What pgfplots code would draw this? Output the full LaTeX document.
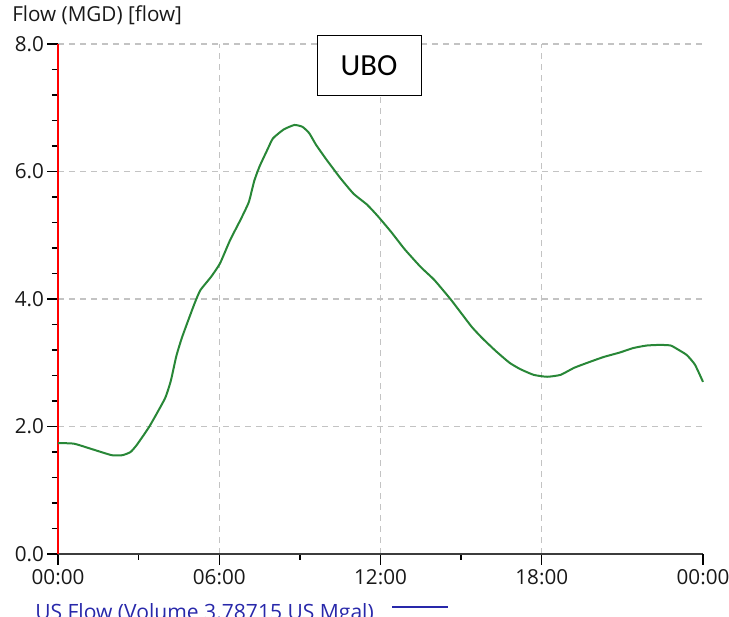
\documentclass[border=0pt]{standalone}
\usepackage{fontspec}
\setmainfont{Open Sans}
\newfontfamily\calibri{Carlito}
\usepackage{pgfplots}
\pgfplotsset{compat=1.18}
\definecolor{curvegreen}{RGB}{40,135,55}
\definecolor{gridgray}{RGB}{195,195,195}
\definecolor{legblue}{RGB}{40,40,170}
\definecolor{axisdark}{RGB}{60,60,60}
\begin{document}
\begin{tikzpicture}
\clip (-43.5pt,-47.25pt) rectangle (503.25pt,415.5pt);
\begin{axis}[
  at={(0,0)}, anchor=south west,
  scale only axis,
  width=483.75pt, height=382.5pt,
  xmin=0, xmax=24, ymin=0, ymax=8,
  axis x line*=bottom, axis y line*=left,
  x axis line style={-, draw=axisdark, line width=1.6pt},
  y axis line style={-, draw=red, line width=1.4pt},
  xtick={0,6,12,18},
  xticklabels={00:00,06:00,12:00,18:00},
  extra x ticks={24},
  extra x tick labels={00:00},
  extra x tick style={grid=none},
  minor x tick num=1,
  ytick={0,2,4,6,8},
  minor y tick num=4,
  tick align=outside,
  major tick length=8pt,
  minor tick length=4.5pt,
  every tick/.style={black, line width=1.1pt},
  xmajorgrids, ymajorgrids,
  major grid style={gridgray, line width=1.1pt, dash pattern=on 4.5pt off 3.75pt},
  yticklabel style={xshift=1pt, /pgf/number format/.cd, fixed, fixed zerofill, precision=1, assume math mode=true},
  ticklabel style={font=\fontsize{15.5}{18}\selectfont, text=black!90},
  /pgf/number format/assume math mode=true,
  clip=false,
]
\addplot[curvegreen, line width=1.5pt, smooth, tension=0.3] coordinates {
(0,1.74) (0.6,1.73) (1.3,1.64) (2.0,1.55) (2.4,1.55) (2.7,1.60) (2.93,1.71)
(3.4,2.0) (3.98,2.44) (4.2,2.72) (4.4,3.10) (4.6,3.38) (4.85,3.67)
(5.1,3.95) (5.3,4.14) (5.7,4.35) (6.03,4.56) (6.4,4.92) (6.8,5.25)
(7.1,5.52) (7.3,5.85) (7.5,6.08) (7.8,6.35) (8.0,6.52) (8.4,6.66)
(8.8,6.73) (9.1,6.70) (9.35,6.60) (9.6,6.42) (10.0,6.18) (10.5,5.90)
(11.0,5.65) (11.5,5.48) (11.9,5.30) (12.4,5.05) (12.9,4.78) (13.5,4.50)
(14.0,4.30) (14.6,4.00) (15.0,3.78) (15.4,3.56) (15.8,3.38) (16.3,3.18)
(16.8,3.00) (17.2,2.90) (17.7,2.81) (18.2,2.78) (18.7,2.81) (19.2,2.92)
(19.7,3.00) (20.3,3.09) (20.9,3.16) (21.4,3.23) (21.9,3.27) (22.4,3.28)
(22.8,3.27) (23.1,3.20) (23.4,3.12) (23.7,2.97) (24.0,2.70)
};
\end{axis}
% y-axis title
\node[anchor=base west, font=\fontsize{15.5}{18}\selectfont, text=black!90, inner sep=0pt] at (-34.5pt,399pt) {Flow (MGD) [flow]};
% UBO box
\node[draw=black, fill=white, line width=0.75pt, minimum width=78pt, minimum height=45pt, inner sep=0pt, font=\calibri\fontsize{23}{26}\selectfont] at (233.25pt,366pt) {UBO};
% legend (cut off at bottom)
\node[anchor=base west, font=\fontsize{15.8}{18}\selectfont, text=legblue, inner sep=0pt] at (-17.25pt,-49.5pt) {US Flow (Volume 3.78715 US Mgal)};
\draw[legblue, line width=1.1pt] (250.5pt,-39.75pt) -- (292.5pt,-39.75pt);
\end{tikzpicture}
\end{document}
